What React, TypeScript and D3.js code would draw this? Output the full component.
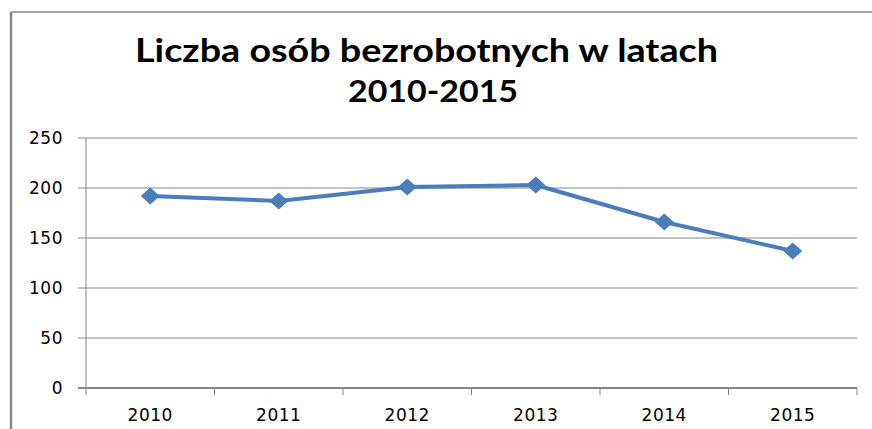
import React from "react";
import * as d3 from "d3";

const titleLines = ["Liczba osób bezrobotnych w latach", "2010-2015"];
const years = ["2010", "2011", "2012", "2013", "2014", "2015"];
const values = [192, 187, 201, 203, 166, 137];
const yTicks = [0, 50, 100, 150, 200, 250];

const W = 872;
const H = 429;
const plot = { left: 86, right: 857, top: 138, bottom: 388 };
const lineColor = "#4A7EBB";
const gridColor = "#868686";

export default function App() {
  const x = d3.scaleBand<string>().domain(years).range([plot.left, plot.right]).padding(0);
  const y = d3.scaleLinear().domain([0, 250]).range([plot.bottom, plot.top]);
  const line = d3
    .line<number>()
    .x((_, i) => (x(years[i]) as number) + x.bandwidth() / 2)
    .y((d) => y(d));
  const diamond = (cx: number, cy: number) =>
    `M${cx - 9.5},${cy} L${cx},${cy - 8.5} L${cx + 9.5},${cy} L${cx},${cy + 8.5} Z`;
  const font = "Lato, 'Open Sans', 'DejaVu Sans', sans-serif";
  const tickFont = "'DejaVu Sans', sans-serif";

  return (
    <svg
      width={W}
      height={H}
      style={{ position: "absolute", left: 0, top: 0, background: "#fff" }}
    >
      {/* outer border */}
      <line x1={11} x2={W} y1={12} y2={12} stroke={gridColor} strokeWidth={1.5} />
      <line x1={11} x2={11} y1={12} y2={H} stroke={gridColor} strokeWidth={2.5} />

      {/* title */}
      <text
        x={135}
        y={62}
        fontFamily={font}
        fontWeight="bold"
        fontSize={32}
        textLength={583}
        lengthAdjust="spacingAndGlyphs"
        fill="#000"
      >
        {titleLines[0]}
      </text>
      <text
        x={348}
        y={102}
        fontFamily={font}
        fontWeight="bold"
        fontSize={30}
        textLength={170}
        lengthAdjust="spacingAndGlyphs"
        fill="#000"
      >
        {titleLines[1]}
      </text>

      {/* gridlines and y labels */}
      {yTicks.map((t) => (
        <g key={t}>
          <line
            x1={78}
            x2={plot.right}
            y1={y(t)}
            y2={y(t)}
            stroke={gridColor}
            strokeWidth={t === 0 ? 2 : 1}
          />
          <text
            x={63}
            y={y(t) + 6}
            textAnchor="end"
            fontFamily={tickFont}
            fontSize={17}
            letterSpacing={0.5}
            fill="#000"
          >
            {t}
          </text>
        </g>
      ))}

      {/* y axis */}
      <line x1={plot.left} x2={plot.left} y1={plot.top} y2={plot.bottom + 7} stroke={gridColor} strokeWidth={1} />

      {/* x ticks */}
      {years.map((yr) => (
        <line
          key={"t" + yr}
          x1={(x(yr) as number) + x.bandwidth()}
          x2={(x(yr) as number) + x.bandwidth()}
          y1={plot.bottom}
          y2={plot.bottom + 7}
          stroke={gridColor}
          strokeWidth={1}
        />
      ))}

      {/* x labels */}
      {years.map((yr) => (
        <text
          key={"l" + yr}
          x={(x(yr) as number) + x.bandwidth() / 2}
          y={421}
          textAnchor="middle"
          fontFamily={tickFont}
          fontSize={17}
          letterSpacing={0.5}
          fill="#000"
        >
          {yr}
        </text>
      ))}

      {/* series */}
      <path d={line(values) || ""} fill="none" stroke={lineColor} strokeWidth={4} strokeLinejoin="round" />
      {values.map((v, i) => (
        <path
          key={"m" + i}
          d={diamond((x(years[i]) as number) + x.bandwidth() / 2, y(v))}
          fill={lineColor}
        />
      ))}
    </svg>
  );
}
